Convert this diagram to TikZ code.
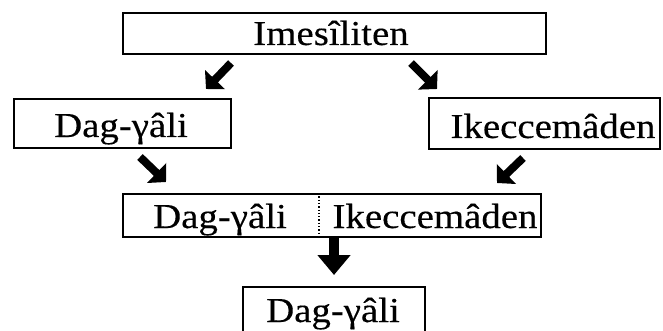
\documentclass[tikz,border=0pt]{standalone}
\usepackage{fontspec}
\setmainfont{Liberation Serif}[FakeStretch=1.11,FakeBold=0.3]
\usetikzlibrary{arrows.meta}
\begin{document}
\begin{tikzpicture}[x=1pt,y=-1pt,
  box/.style={draw,line width=1.7pt,inner sep=0pt,anchor=north west},
  lbl/.style={anchor=base,inner sep=0pt,font=\fontsize{35}{40}\selectfont},
  diag/.style={line width=8pt,line cap=butt,-{Triangle[length=13pt,width=27pt]}},
  down/.style={line width=10pt,line cap=butt,-{Triangle[length=20pt,width=32pt]}}]
\useasboundingbox (0,0) rectangle (663,331);
\begin{scope}
\clip (0,0) rectangle (663,331);
% boxes
\node[box,minimum width=423pt,minimum height=41pt] (top) at (122,12) {};
\node[box,minimum width=217pt,minimum height=49pt] (left) at (13,98) {};
\node[box,minimum width=231pt,minimum height=51pt] (right) at (428,97) {};
\node[box,minimum width=418pt,minimum height=43pt] (mid) at (122,193) {};
\node[box,minimum width=182pt,minimum height=60pt] (bot) at (242,286) {};
\end{scope}
% divider inside the combined box
\coordinate (divt) at (319,193);
\coordinate (divb) at (319,236);
\draw[line width=1.3pt,dotted] (divt) -- (divb);
% labels
\node[lbl] (topt) at (331,45) {Imesîliten};
\node[lbl] (leftt) at (121,137) {Dag-γâli};
\node[lbl] (rightt) at (553,138) {Ikeccemâden};
\node[lbl] (midl) at (220,228) {Dag-γâli};
\node[lbl] (midr) at (435,228) {Ikeccemâden};
\node[lbl] (bott) at (333,322) {Dag-γâli};
% arrow ends
\coordinate (a1s) at (231,63);  \coordinate (a1e) at (206,89);
\coordinate (a2s) at (411,63);  \coordinate (a2e) at (437,89);
\coordinate (a3s) at (140,157); \coordinate (a3e) at (166,182);
\coordinate (a4s) at (523,158); \coordinate (a4e) at (497,183);
\coordinate (a5s) at (334,236); \coordinate (a5e) at (334,275);
\draw[diag] (a1s) -- (a1e);
\draw[diag] (a2s) -- (a2e);
\draw[diag] (a3s) -- (a3e);
\draw[diag] (a4s) -- (a4e);
\draw[down] (a5s) -- (a5e);
\end{tikzpicture}
\end{document}
